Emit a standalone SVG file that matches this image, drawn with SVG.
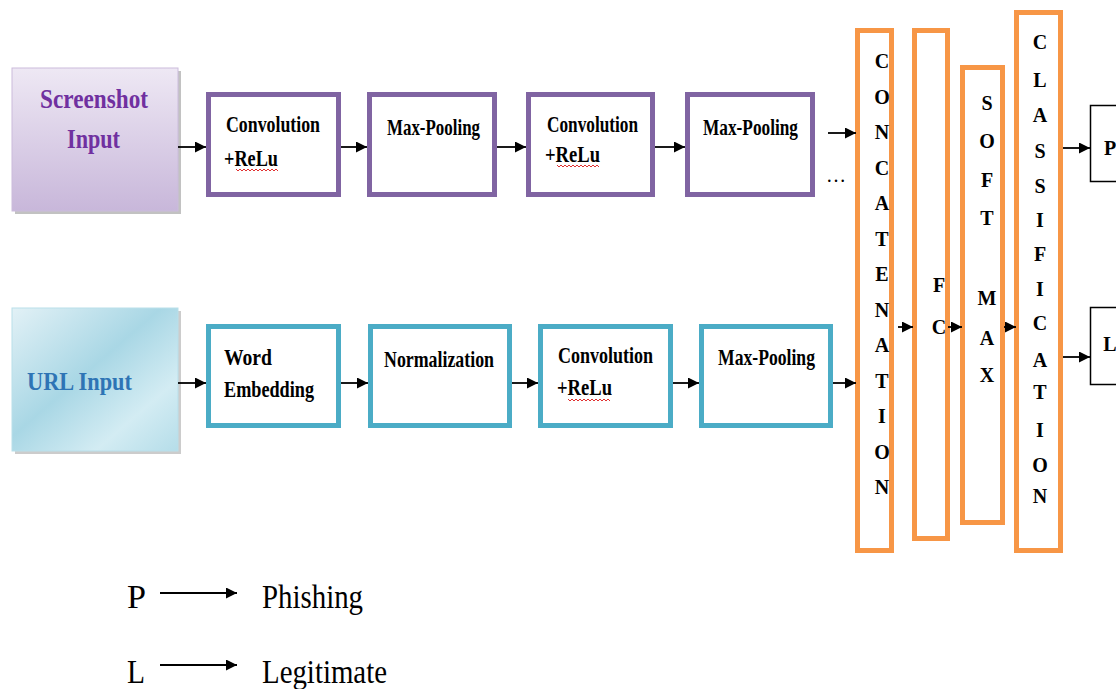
<svg xmlns="http://www.w3.org/2000/svg" width="1116" height="689" viewBox="0 0 1116 689">
<defs>
<marker id="ah" markerUnits="userSpaceOnUse" markerWidth="13" markerHeight="13" refX="11" refY="5.5" orient="auto">
<path d="M0,0 L11,5.5 L0,11 Z" fill="#000"/>
</marker>
<linearGradient id="gp" x1="0" y1="0" x2="0" y2="1">
<stop offset="0" stop-color="#eee8f4"/>
<stop offset="1" stop-color="#c8b7da"/>
</linearGradient>
<linearGradient id="gb" x1="0" y1="0" x2="1" y2="1">
<stop offset="0" stop-color="#e2f1f6"/>
<stop offset="0.45" stop-color="#a9d7e5"/>
<stop offset="0.75" stop-color="#d3ecf3"/>
<stop offset="1" stop-color="#b5dde9"/>
</linearGradient>
<style>
.pu{fill:#fff;stroke:#8064a2;stroke-width:5}
.cy{fill:#fff;stroke:#4bacc6;stroke-width:5}
.or{fill:#fff;stroke:#f79646;stroke-width:5}
.out{fill:#fff;stroke:#000;stroke-width:1.5}
.t{font-family:"Liberation Serif",serif;font-weight:bold;font-size:24px;fill:#000}
.v{font-family:"Liberation Serif",serif;font-weight:bold;font-size:20px;fill:#000;text-anchor:middle}
.lg{font-family:"Liberation Serif",serif;font-size:34px;fill:#000}
.sq{fill:none;stroke:#e03030;stroke-width:1}
.c line{stroke:#000;stroke-width:1.8;marker-end:url(#ah)}
</style>
</defs>
<rect width="1116" height="689" fill="#fff"/>

<g id="screenshot-input">
<rect x="15" y="71" width="166" height="143" fill="#9a9a9a" opacity="0.6"/>
<rect x="12" y="68" width="166" height="143" fill="url(#gp)" stroke="#cbbcdc" stroke-width="1"/>
<text x="40" y="108" font-family="'Liberation Serif',serif" font-weight="bold" font-size="27" fill="#7030a0" textLength="108" lengthAdjust="spacingAndGlyphs">Screenshot</text>
<text x="67" y="148" font-family="'Liberation Serif',serif" font-weight="bold" font-size="27" fill="#7030a0" textLength="53" lengthAdjust="spacingAndGlyphs">Input</text>
</g>

<g id="url-input">
<rect x="15" y="311" width="166" height="143" fill="#9a9a9a" opacity="0.5"/>
<rect x="12" y="308" width="166" height="143" fill="url(#gb)" stroke="#b9dfea" stroke-width="1"/>
<text x="27" y="390" font-family="'Liberation Serif',serif" font-weight="bold" font-size="25" fill="#2e74b5" textLength="105" lengthAdjust="spacingAndGlyphs">URL Input</text>
</g>

<g id="conv1">
<rect class="pu" x="208.5" y="94.5" width="130" height="100"/>
<text class="t" x="226" y="132" textLength="94" lengthAdjust="spacingAndGlyphs">Convolution</text>
<text class="t" x="224" y="166" textLength="54" lengthAdjust="spacingAndGlyphs">+ReLu</text>
<polyline class="sq" points="236,169 238,171 240,169 242,171 244,169 246,171 248,169 250,171 252,169 254,171 256,169 258,171 260,169 262,171 264,169 266,171 268,169 270,171 272,169 274,171 276,169 278,171"/>
</g>
<g id="pool1">
<rect class="pu" x="369.5" y="94.5" width="125" height="100"/>
<text class="t" x="387" y="135" textLength="93" lengthAdjust="spacingAndGlyphs">Max-Pooling</text>
</g>
<g id="conv2">
<rect class="pu" x="528.5" y="94.5" width="124" height="100"/>
<text class="t" x="547" y="132" textLength="91" lengthAdjust="spacingAndGlyphs">Convolution</text>
<text class="t" x="545" y="162" textLength="55" lengthAdjust="spacingAndGlyphs">+ReLu</text>
<polyline class="sq" points="557,165 559,167 561,165 563,167 565,165 567,167 569,165 571,167 573,165 575,167 577,165 579,167 581,165 583,167 585,165 587,167 589,165 591,167 593,165 595,167 597,165 599,167"/>
</g>
<g id="pool2">
<rect class="pu" x="687.5" y="94.5" width="125" height="100"/>
<text class="t" x="703" y="135" textLength="95" lengthAdjust="spacingAndGlyphs">Max-Pooling</text>
</g>

<g id="embed">
<rect class="cy" x="208.5" y="326.5" width="130" height="99"/>
<text class="t" x="224" y="365" textLength="48" lengthAdjust="spacingAndGlyphs">Word</text>
<text class="t" x="224" y="397" textLength="90" lengthAdjust="spacingAndGlyphs">Embedding</text>
</g>
<g id="norm">
<rect class="cy" x="370.5" y="326.5" width="139" height="99"/>
<text class="t" x="384" y="367" textLength="110" lengthAdjust="spacingAndGlyphs">Normalization</text>
</g>
<g id="conv3">
<rect class="cy" x="540.5" y="326.5" width="130" height="99"/>
<text class="t" x="558" y="363" textLength="95" lengthAdjust="spacingAndGlyphs">Convolution</text>
<text class="t" x="557" y="395" textLength="55" lengthAdjust="spacingAndGlyphs">+ReLu</text>
<polyline class="sq" points="568,399 570,401 572,399 574,401 576,399 578,401 580,399 582,401 584,399 586,401 588,399 590,401 592,399 594,401 596,399 598,401 600,399 602,401 604,399 606,401 608,399 610,401"/>
</g>
<g id="pool3">
<rect class="cy" x="701.5" y="326.5" width="129" height="99"/>
<text class="t" x="718" y="365" textLength="97" lengthAdjust="spacingAndGlyphs">Max-Pooling</text>
</g>

<g id="concatenation">
<rect class="or" x="857.5" y="30.5" width="34" height="520"/>
<text class="v"><tspan x="882" y="68">C</tspan><tspan x="882" y="103.5">O</tspan><tspan x="882" y="139">N</tspan><tspan x="882" y="174.5">C</tspan><tspan x="882" y="210">A</tspan><tspan x="882" y="245.5">T</tspan><tspan x="882" y="281">E</tspan><tspan x="882" y="316.5">N</tspan><tspan x="882" y="352">A</tspan><tspan x="882" y="387.5">T</tspan><tspan x="882" y="423">I</tspan><tspan x="882" y="458.5">O</tspan><tspan x="882" y="494">N</tspan></text>
</g>
<g id="fc">
<rect class="or" x="914.5" y="30.5" width="33" height="508"/>
<text class="v"><tspan x="939" y="292">F</tspan><tspan x="939" y="334">C</tspan></text>
</g>
<g id="softmax">
<rect class="or" x="962.5" y="67.5" width="40" height="455"/>
<text class="v"><tspan x="987" y="110">S</tspan><tspan x="987" y="148">O</tspan><tspan x="987" y="187">F</tspan><tspan x="987" y="225">T</tspan><tspan x="987" y="305">M</tspan><tspan x="987" y="345">A</tspan><tspan x="987" y="382">X</tspan></text>
</g>
<g id="classification">
<rect class="or" x="1016.5" y="12.5" width="44" height="538"/>
<text class="v"><tspan x="1040" y="49">C</tspan><tspan x="1040" y="87">L</tspan><tspan x="1040" y="122">A</tspan><tspan x="1040" y="158">S</tspan><tspan x="1040" y="193">S</tspan><tspan x="1040" y="227">I</tspan><tspan x="1040" y="261">F</tspan><tspan x="1040" y="296">I</tspan><tspan x="1040" y="330">C</tspan><tspan x="1040" y="367">A</tspan><tspan x="1040" y="399">T</tspan><tspan x="1040" y="437">I</tspan><tspan x="1040" y="472">O</tspan><tspan x="1040" y="503">N</tspan></text>
</g>
<g id="out-p">
<rect class="out" x="1090.5" y="105.5" width="40" height="76"/>
<text class="v" x="1110" y="155" font-size="21">P</text>
</g>
<g id="out-l">
<rect class="out" x="1090.5" y="307.5" width="40" height="77"/>
<text class="v" x="1110" y="351" font-size="21">L</text>
</g>

<g id="connectors" class="c">
<line x1="178" y1="147" x2="206" y2="147"/>
<line x1="341" y1="147" x2="367" y2="147"/>
<line x1="497" y1="147" x2="526" y2="147"/>
<line x1="655" y1="147" x2="685" y2="147"/>
<line x1="828" y1="133" x2="856" y2="133"/>
<line x1="178" y1="383" x2="206" y2="383"/>
<line x1="341" y1="383" x2="368" y2="383"/>
<line x1="512" y1="383" x2="538" y2="383"/>
<line x1="673" y1="383" x2="699" y2="383"/>
<line x1="833" y1="383" x2="856" y2="383"/>
<line x1="898" y1="327" x2="913" y2="327"/>
<line x1="948" y1="327" x2="962" y2="327"/>
<line x1="1004" y1="327" x2="1016" y2="327"/>
<line x1="1063" y1="148" x2="1090" y2="148"/>
<line x1="1063" y1="357" x2="1090" y2="357"/>
</g>
<text x="826" y="182" font-family="'Liberation Serif',serif" font-size="20" fill="#000">…</text>

<g id="legend">
<text class="lg" x="127" y="608" textLength="19" lengthAdjust="spacingAndGlyphs">P</text>
<line x1="160" y1="593" x2="237" y2="593" stroke="#000" stroke-width="1.8" marker-end="url(#ah)"/>
<text class="lg" x="262" y="608" textLength="101" lengthAdjust="spacingAndGlyphs">Phishing</text>
<text class="lg" x="127" y="683" textLength="18" lengthAdjust="spacingAndGlyphs">L</text>
<line x1="160" y1="665" x2="237" y2="665" stroke="#000" stroke-width="1.8" marker-end="url(#ah)"/>
<text class="lg" x="262" y="683" textLength="125" lengthAdjust="spacingAndGlyphs">Legitimate</text>
</g>
</svg>
